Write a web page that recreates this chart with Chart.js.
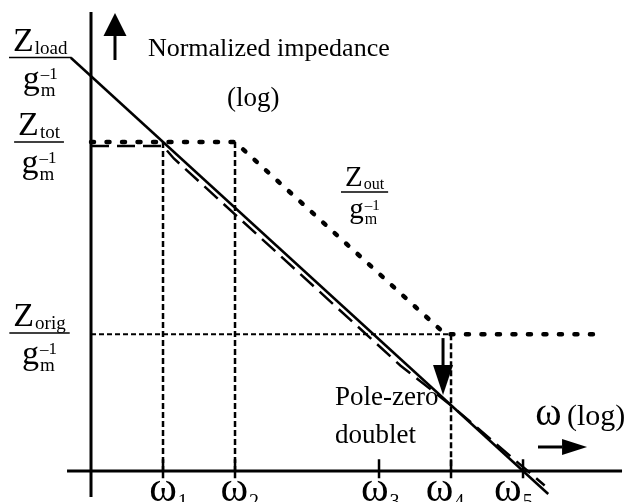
<!DOCTYPE html>
<html>
<head>
<meta charset="utf-8">
<script src="https://cdn.jsdelivr.net/npm/chart.js@4/dist/chart.umd.min.js"></script>
<style>
    html, body { margin: 0; padding: 0; background: #ffffff; }
    canvas { display: block; }
</style>
</head>
<body>
<canvas id="bodeChart" width="627" height="502"></canvas>
<script>
    // log(omega) positions of the break frequencies
    var omegaTicks = [1, 2, 4, 5, 6];
    var omegaSubs = ['1', '2', '3', '4', '5'];

    // normalized impedance levels (log)
    var zTotLevel = 5;
    var zOrigLevel = 2.08;

    // Z_load / gm^-1 : straight roll-off
    var loadX = [-0.28, 6.35];
    var loadY = [6.28, -0.35];

    // Z_out / gm^-1 : flat, roll-off, flat again
    var outX = [0, 2, 4.92, 7.14];
    var outY = [zTotLevel, zTotLevel, zOrigLevel, zOrigLevel];

    // Z_tot / gm^-1 with the pole-zero doublet
    var totX = [0, 1, 1.15, 4.3, 5.02, 6.3];
    var totY = [4.94, 4.94, 4.75, 1.6, 0.98, -0.22];

    // Z_orig / gm^-1 reference level
    var origX = [0, 5];
    var origY = [zOrigLevel, zOrigLevel];

    // axis extents
    var axisX = [-0.333, 7.375];
    var axisY = [-0.395, 6.976];

    function pts(xs, ys) {
        return xs.map(function (x, i) { return { x: x, y: ys[i] }; });
    }

    var FONT = "'Liberation Serif', 'Times New Roman', serif";

    function lineSet(data, width, dash, cap) {
        return {
            data: data,
            showLine: true,
            borderColor: '#000',
            backgroundColor: '#000',
            borderWidth: width,
            borderDash: dash || [],
            borderCapStyle: cap || 'butt',
            pointRadius: 0,
            tension: 0,
            fill: false
        };
    }

    var datasets = [];
    // axes
    datasets.push(lineSet([{ x: 0, y: axisY[0] }, { x: 0, y: axisY[1] }], 3));
    datasets.push(lineSet([{ x: axisX[0], y: 0 }, { x: axisX[1], y: 0 }], 3));
    // tick marks
    omegaTicks.forEach(function (t) {
        datasets.push(lineSet([{ x: t, y: 0.18 }, { x: t, y: -0.11 }], 2.5));
    });
    // guide lines at w1, w2, w4 and the Z_orig level
    datasets.push(lineSet([{ x: omegaTicks[0], y: zTotLevel }, { x: omegaTicks[0], y: 0 }], 2.5, [6, 3]));
    datasets.push(lineSet([{ x: omegaTicks[1], y: zTotLevel }, { x: omegaTicks[1], y: 0 }], 2.5, [6, 3]));
    datasets.push(lineSet([{ x: omegaTicks[3], y: zOrigLevel }, { x: omegaTicks[3], y: 0 }], 2.5, [6, 3]));
    datasets.push(lineSet(pts(origX, origY), 2, [5, 3]));
    // curves
    datasets.push(lineSet(pts(outX, outY), 4.5, [3, 12.5], 'round'));
    datasets.push(lineSet(pts(totX, totY), 2.5, [18, 8]));
    datasets.push(lineSet(pts(loadX, loadY), 2.5));

    // label anchors in data units
    var fracLabels = [
        { sub: 'load', x: -0.705, y: 6.284, size: 34 },
        { sub: 'tot', x: -0.722, y: 5.0, size: 34 },
        { sub: 'orig', x: -0.715, y: 2.097, size: 34 },
        { sub: 'out', x: 3.799, y: 4.24, size: 29 }
    ];
    var omegaLabelShift = [0, -0.01, -0.06, -0.16, -0.21];

    function drawFrac(ctx, cx, ly, sub, s) {
        var k = s / 34;
        var big = s + 'px ' + FONT;
        var small = Math.round(s * 0.56) + 'px ' + FONT;
        var sup = Math.round(s * 0.5) + 'px ' + FONT;
        ctx.textAlign = 'left';
        ctx.textBaseline = 'alphabetic';
        ctx.font = big;
        var wZ = ctx.measureText('Z').width;
        var wg = ctx.measureText('g').width;
        ctx.font = small;
        var wSub = ctx.measureText(sub).width;
        var wm = ctx.measureText('m').width;
        ctx.font = sup;
        var wSup = ctx.measureText('\u20131').width;

        var numW = wZ + 1 + wSub;
        var nx = cx - numW / 2;
        ctx.font = big;
        ctx.fillText('Z', nx, ly - 7 * k);
        ctx.font = small;
        ctx.fillText(sub, nx + wZ + 1, ly - 4 * k);

        ctx.lineWidth = 1.5;
        ctx.beginPath();
        ctx.moveTo(cx - numW / 2 - 4, ly);
        ctx.lineTo(cx + numW / 2 + 4, ly);
        ctx.stroke();

        var denW = wg + 1 + Math.max(wSup, wm);
        var dx = cx - denW / 2;
        ctx.font = big;
        ctx.fillText('g', dx, ly + 31 * k);
        ctx.font = sup;
        ctx.fillText('\u20131', dx + wg + 1, ly + 21 * k);
        ctx.font = small;
        ctx.fillText('m', dx + wg + 1, ly + 38 * k);
    }

    function arrow(ctx, x0, y0, x1, y1, headLen, headHalf) {
        var ang = Math.atan2(y1 - y0, x1 - x0);
        var bx = x1 - headLen * Math.cos(ang);
        var by = y1 - headLen * Math.sin(ang);
        ctx.lineWidth = 3;
        ctx.beginPath();
        ctx.moveTo(x0, y0);
        ctx.lineTo(bx, by);
        ctx.stroke();
        ctx.beginPath();
        ctx.moveTo(x1, y1);
        ctx.lineTo(bx + headHalf * Math.sin(ang), by - headHalf * Math.cos(ang));
        ctx.lineTo(bx - headHalf * Math.sin(ang), by + headHalf * Math.cos(ang));
        ctx.closePath();
        ctx.fill();
    }

    var annotations = {
        id: 'annotations',
        afterDatasetsDraw: function (chart) {
            var ctx = chart.ctx;
            var xs = chart.scales.x;
            var ys = chart.scales.y;
            var px = function (v) { return xs.getPixelForValue(v); };
            var py = function (v) { return ys.getPixelForValue(v); };
            ctx.save();
            ctx.fillStyle = '#000';
            ctx.strokeStyle = '#000';

            fracLabels.forEach(function (f) {
                drawFrac(ctx, px(f.x), py(f.y), f.sub, f.size);
            });

            ctx.textAlign = 'left';
            ctx.textBaseline = 'alphabetic';
            ctx.font = '26px ' + FONT;
            ctx.fillText('Normalized impedance', px(0.79), py(6.31));
            ctx.font = '27px ' + FONT;
            ctx.fillText('(log)', px(1.89), py(5.55));
            ctx.fillText('Pole-zero', px(3.39), py(1.0));
            ctx.fillText('doublet', px(3.39), py(0.43));

            // frequency axis caption
            ctx.font = '40px ' + FONT;
            ctx.fillText('\u03c9', px(6.17), py(0.70));
            ctx.font = '30px ' + FONT;
            ctx.fillText('(log)', px(6.61), py(0.70));

            // tick labels
            omegaTicks.forEach(function (t, i) {
                var cx = px(t + omegaLabelShift[i]);
                ctx.font = '42px ' + FONT;
                var w = ctx.measureText('\u03c9').width;
                ctx.fillText('\u03c9', cx - w / 2, py(-0.45));
                ctx.font = '20px ' + FONT;
                ctx.fillText(omegaSubs[i], cx + w / 2 + 1, py(-0.56));
            });

            // arrows
            arrow(ctx, px(0.333), py(6.246), px(0.333), py(6.96), 23, 11.5);
            arrow(ctx, px(4.889), py(2.02), px(4.889), py(1.155), 30, 10);
            arrow(ctx, px(6.208), py(0.365), px(6.889), py(0.365), 25, 8);

            ctx.restore();
        }
    };

    new Chart(document.getElementById('bodeChart').getContext('2d'), {
        type: 'scatter',
        data: { datasets: datasets },
        options: {
            responsive: false,
            animation: false,
            devicePixelRatio: 1,
            events: [],
            layout: { padding: 0 },
            plugins: {
                legend: { display: false },
                tooltip: { enabled: false },
                title: { display: false }
            },
            scales: {
                x: { type: 'linear', min: -1.264, max: 7.444, display: false },
                y: { type: 'linear', min: -0.471, max: 7.158, display: false }
            }
        },
        plugins: [annotations]
    });
</script>
</body>
</html>
